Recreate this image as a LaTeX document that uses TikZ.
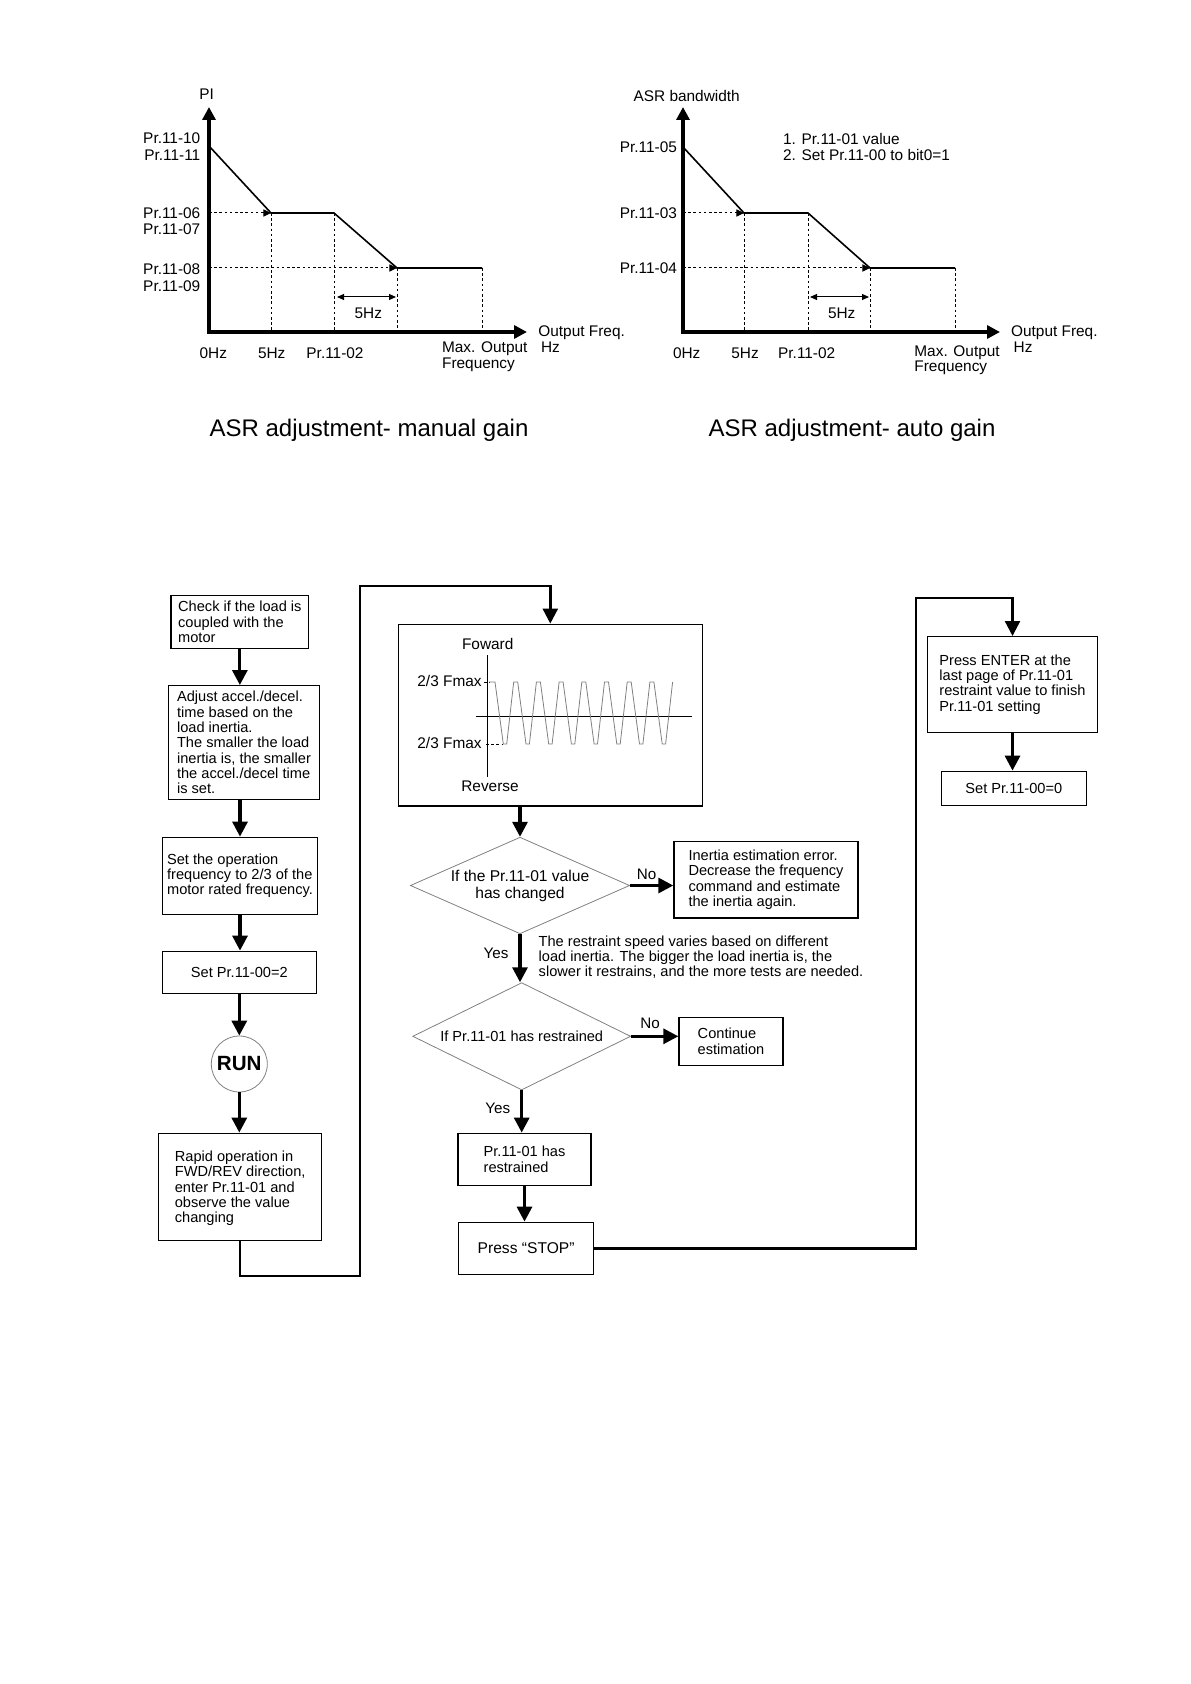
\documentclass[tikz,border=0pt]{standalone}
\usepackage{fontspec}
\setmainfont{Liberation Sans}
\usetikzlibrary{arrows.meta,shapes.geometric}
\newcommand{\fsBox}{\fontsize{7.3}{7.65}\selectfont}
\newcommand{\fsChart}{\fontsize{7.7}{8}\selectfont}
\newcommand{\fsTitle}{\fontsize{12}{14}\selectfont}
\begin{document}
\begin{tikzpicture}[x=0.5pt,y=-0.5pt,
 lbl/.style={inner sep=0pt, font=\fsChart, text height=5.5pt, text depth=0pt},
 axisline/.style={line width=1.8pt, line join=miter, {Triangle[width=6.5pt,length=6.5pt]}-{Triangle[width=6.5pt,length=6.5pt]}},
 curveline/.style={line width=0.8pt},
 dotline/.style={line width=0.5pt, dash pattern=on 1.3pt off 1.3pt},
 dotarrow/.style={dotline, -{Triangle[width=3.6pt,length=3.8pt]}},
 dimarrow/.style={line width=0.5pt, {Triangle[width=3pt,length=3.5pt]}-{Triangle[width=3pt,length=3.5pt]}},
 box/.style={draw, line width=0.7pt, inner sep=0pt, font=\fsBox, align=left},
 dia/.style={diamond, draw=gray, line width=0.4pt, inner sep=0pt, align=center},
 conn/.style={line width=1.6pt, -{Triangle[width=7.5pt,length=7.5pt]}},
 longconn/.style={line width=1.2pt, line join=miter, -{Triangle[width=7.5pt,length=7.5pt]}},
 flab/.style={inner sep=0pt, font=\fontsize{7.6}{8}\selectfont, text height=5.5pt, text depth=0pt},
 wave/.style={draw=gray, line width=0.4pt},
]
\useasboundingbox (0,0) rectangle (1190,1684);

% ---------------- left chart (manual gain) ----------------
\draw[dotarrow] (209,213) -- (271,213);
\draw[dotarrow] (209,268) -- (397,268);
\draw[dotline] (271,213) -- (271,332);
\draw[dotline] (334,213) -- (334,332);
\draw[dotline] (397,268) -- (397,332);
\draw[dotline] (482,268) -- (482,332);
\draw[curveline] (209,146) -- (271,213) -- (334,213) -- (397,268) -- (482,268);
\draw[dimarrow] (337,297) -- (396,297);
\draw[axisline] (209,107) -- (209,332) -- (527,332);
\node[lbl] (pi) at (206.7,94) {PI};
\node[lbl, anchor=east] (l1) at (200.7,138.3) {Pr.11-10};
\node[lbl, anchor=east] (l2) at (200.7,155) {Pr.11-11};
\node[lbl, anchor=east] (l3) at (200.7,212.7) {Pr.11-06};
\node[lbl, anchor=east] (l4) at (200.7,229.3) {Pr.11-07};
\node[lbl, anchor=east] (l5) at (200.7,269.3) {Pr.11-08};
\node[lbl, anchor=east] (l6) at (200.7,286) {Pr.11-09};
\node[lbl] (lx0) at (213.3,352.7) {0Hz};
\node[lbl] (lx1) at (271.7,352.7) {5Hz};
\node[lbl] (lx2) at (335,352.7) {Pr.11-02};
\node[lbl, anchor=west] (lmax) at (441.7,347.3) {Max. Output};
\node[lbl, anchor=west] (lfrq) at (441.7,363) {Frequency};
\node[lbl, anchor=west] (lhz) at (540.7,347.3) {Hz};
\node[lbl, anchor=west] (lout) at (538,330.7) {Output Freq.};
\node[lbl] (ldim) at (368.3,313.3) {5Hz};

% ---------------- right chart (auto gain) ----------------
\draw[dotarrow] (683,213) -- (744,213);
\draw[dotarrow] (683,268) -- (870,268);
\draw[dotline] (744,213) -- (744,332);
\draw[dotline] (808,213) -- (808,332);
\draw[dotline] (870,268) -- (870,332);
\draw[dotline] (955,268) -- (955,332);
\draw[curveline] (683,147) -- (744,213) -- (808,213) -- (870,268) -- (955,268);
\draw[dimarrow] (810,297) -- (869,297);
\draw[axisline] (683,107) -- (683,332) -- (1000,332);
\node[lbl] (asr) at (686.7,95.7) {ASR bandwidth};
\node[lbl, anchor=east] (r1) at (677.3,147.3) {Pr.11-05};
\node[lbl, anchor=east] (r2) at (677.3,212.7) {Pr.11-03};
\node[lbl, anchor=east] (r3) at (677.3,268.3) {Pr.11-04};
\node[lbl, anchor=west] (n1) at (782.7,139) {1. Pr.11-01 value};
\node[lbl, anchor=west] (n2) at (782.7,155) {2. Set Pr.11-00 to bit0=1};
\node[lbl] (rx0) at (686.7,352.7) {0Hz};
\node[lbl] (rx1) at (745,352.7) {5Hz};
\node[lbl] (rx2) at (806.7,352.7) {Pr.11-02};
\node[lbl, anchor=west] (rmax) at (914,350.7) {Max. Output};
\node[lbl, anchor=west] (rfrq) at (914,366.4) {Frequency};
\node[lbl, anchor=west] (rhz) at (1013.3,347.3) {Hz};
\node[lbl, anchor=west] (rout) at (1010.7,330.7) {Output Freq.};
\node[lbl] (rdim) at (841.7,313.3) {5Hz};

% titles
\node[font=\fsTitle, inner sep=0pt] (t1) at (369,430) {ASR adjustment- manual gain};
\node[font=\fsTitle, inner sep=0pt] (t2) at (852,430) {ASR adjustment- auto gain};

% ---------------- flowchart ----------------
\node[box, minimum width=68.85pt, minimum height=26.5pt] (b1) at (239.85,621.8)
  {Check if the load is\\coupled with the\\motor};
\node[box, minimum width=75.7pt, minimum height=56.8pt] (b2) at (244,742.5)
  {Adjust accel./decel.\\time based on the\\load inertia.\\The smaller the load\\inertia is, the smaller\\the accel./decel time\\is set.};
\node[box, minimum width=77.7pt, minimum height=38.5pt] (b3) at (240,875.8)
  {Set the operation\\frequency to 2/3 of the\\motor rated frequency.};
\node[box, minimum width=77pt, minimum height=21pt] (b4) at (239.3,972.3) {Set Pr.11-00=2};
\node[circle, draw=gray, line width=0.4pt, minimum size=28pt, inner sep=0pt,
  font=\fontsize{10.3}{12}\selectfont\bfseries] (run) at (239.3,1064) {RUN};
\node[box, minimum width=81.55pt, minimum height=53.5pt, text depth=-2pt] (b5) at (240.15,1186.8)
  {Rapid operation in\\FWD/REV direction,\\enter Pr.11-01 and\\observe the value\\changing};

\node[box, minimum width=152pt, minimum height=90.85pt] (b6) at (550.3,715.15) {};
% inside the waveform box
\draw[line width=0.5pt] (487,655) -- (487,777);
\draw[line width=0.5pt] (476,716) -- (692,716);
\draw[dotline] (484,682) -- (490,682);
\draw[dotline] (486,744) -- (503,744);
\draw[wave] (489,682) -- (491,682) \foreach \k in {0,...,7} { -- ++(4,0) -- ++(8.3,62) -- ++(3.4,0) -- ++(7,-62) };
\node[lbl] (fwd) at (487.7,644) {Foward};
\node[lbl] (rev) at (490,786) {Reverse};
\node[lbl, anchor=east] (fu) at (482,681) {2/3 Fmax};
\node[lbl, anchor=east] (fl) at (482,743.3) {2/3 Fmax};

\node[dia, aspect=2.27, minimum width=109.65pt, minimum height=48.3pt,
  font=\fontsize{7.8}{8.5}\selectfont] (d1) at (520,885.5) {If the Pr.11-01 value\\has changed};
\node[box, minimum width=92pt, minimum height=38.35pt] (b7) at (766,879.65)
  {Inertia estimation error.\\Decrease the frequency\\command and estimate\\the inertia again.};
\node[inner sep=0pt, font=\fontsize{7.3}{7.5}\selectfont, align=left, anchor=west] (note) at (538.3,957)
  {The restraint speed varies based on different\\load inertia. The bigger the load inertia is, the\\slower it restrains, and the more tests are needed.};
\node[dia, aspect=2.03, minimum width=109pt, minimum height=53.65pt, font=\fsBox] (d2) at (521.7,1036.3)
  {If Pr.11-01 has restrained};
\node[box, minimum width=52pt, minimum height=24pt] (b8) at (731,1041.3) {Continue\\estimation};
\node[box, minimum width=66.5pt, minimum height=26pt] (b9) at (524.5,1159.3) {Pr.11-01 has\\restrained};
\node[box, minimum width=67.6pt, minimum height=26pt, font=\fontsize{7.8}{8}\selectfont] (b10) at (526.1,1248.3) {Press “STOP”};
\node[box, minimum width=84.8pt, minimum height=47.8pt] (b11) at (1012.5,684.5)
  {Press ENTER at the\\last page of Pr.11-01\\restraint value to finish\\Pr.11-01 setting};
\node[box, minimum width=72.5pt, minimum height=17pt] (b12) at (1013.8,788.3) {Set Pr.11-00=0};

\node[flab] (no1) at (646.7,874.3) {No};
\node[flab] (yes1) at (496,952.7) {Yes};
\node[flab] (no2) at (650,1022.7) {No};
\node[flab] (yes2) at (497.7,1107.7) {Yes};

% connectors
\draw[conn] (b1.south) -- (b1.south |- b2.north);
\draw[conn] (b3.north |- b2.south) -- (b3.north);
\draw[conn] (b3.south) -- (b3.south |- b4.north);
\draw[conn] (b4.south) -- (b4.south |- run.north);
\draw[conn] (run.south) -- (run.south |- b5.north);
\coordinate (j1) at (360,1276);
\coordinate (j2) at (550.3,586);
\draw[longconn] (b5.south) |- (j1) |- (j2) -- (b6.north);
\draw[conn] (d1.north |- b6.south) -- (d1.north);
\draw[conn] (d1.east) -- (d1.east -| b7.west);
\draw[conn] (d1.south) -- (d1.south |- d2.north);
\draw[conn] (d2.east) -- (d2.east -| b8.west);
\draw[conn] (d2.south) -- (d2.south |- b9.north);
\draw[conn] (b9.south) -- (b9.south |- b10.north);
\coordinate (j3) at (916,598);
\draw[longconn] (b10.east) -| (j3) -| (b11.north);
\draw[conn] (b11.south) -- (b11.south |- b12.north);
\end{tikzpicture}
\end{document}
